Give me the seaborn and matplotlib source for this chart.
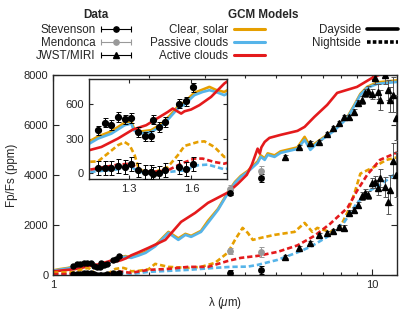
import numpy as np
import pandas as pd
import seaborn as sns
import matplotlib.pyplot as plt
from matplotlib.lines import Line2D
from matplotlib.container import ErrorbarContainer
from matplotlib.legend_handler import HandlerErrorbar

# GCM models - dayside (solid)
clear_day_wl = [1.0, 1.05, 1.11, 1.154, 1.218, 1.281, 1.313, 1.325, 1.352, 1.408, 1.456, 1.495, 1.535, 1.567,
                1.614, 1.654, 1.686, 1.717, 1.757, 1.85, 1.95, 2.09, 2.3, 2.47, 2.6, 2.71, 2.91, 3.06, 3.29, 3.54,
                3.72, 3.88, 4.08, 4.38, 4.48, 4.61, 4.71, 4.95, 5.17, 5.84, 6.15, 6.41, 6.74, 7.6, 8.38, 8.81,
                9.2, 9.66, 10.4, 12.0]
clear_day = [180, 230, 275, 320, 365, 440, 452, 392, 362, 375, 428, 498, 580, 618, 700, 728, 751, 725, 707,
             800, 920, 1180, 1720, 1460, 1640, 1560, 1760, 2160, 2640, 3320, 3720, 3960, 4160, 4540, 4780,
             4660, 4860, 4780, 4940, 5100, 5520, 5120, 5320, 5800, 6320, 6800, 7240, 7520, 7700, 7780]
passive_day = [160, 210, 255, 302, 345, 418, 432, 374, 345, 359, 411, 481, 563, 598, 679, 707, 722, 707, 679,
               770, 880, 1140, 1680, 1400, 1600, 1520, 1720, 2080, 2600, 3280, 3680, 3920, 4120, 4480, 4720,
               4600, 4800, 4720, 4880, 5040, 5400, 5000, 5280, 5760, 6280, 6760, 7200, 7480, 7640, 7720]
active_day_wl = [1.0, 1.11, 1.17, 1.249, 1.32, 1.384, 1.44, 1.487, 1.511, 1.551, 1.567, 1.598, 1.638, 1.694,
                 1.757, 1.85, 1.99, 2.25, 2.52, 2.79, 3.06, 3.54, 3.8, 4.05, 4.2, 4.38, 4.45, 4.5, 4.61, 4.77,
                 5.17, 5.84, 6.15, 6.6, 7.24, 7.78, 8.98, 10.14, 10.76, 12.0]
active_day = [140, 200, 229, 302, 380, 418, 481, 533, 563, 519, 539, 554, 592, 664, 780, 900, 1080, 1400, 2120,
              2480, 2880, 3300, 3650, 4000, 4400, 5050, 4850, 5100, 5320, 5480, 5600, 5760, 5920, 6320, 6800,
              7280, 7520, 7920, 8040, 8300]

# GCM models - nightside (dashed)
clear_night_wl = [1.0, 1.11, 1.154, 1.2, 1.249, 1.281, 1.305, 1.329, 1.348, 1.384, 1.424, 1.487, 1.535, 1.567,
                  1.63, 1.662, 1.71, 1.757, 1.85, 1.99, 2.09, 2.3, 2.65, 2.91, 3.22, 3.54, 3.72, 3.93, 4.08,
                  4.23, 4.48, 4.95, 5.72, 6.15, 6.5, 6.74, 7.39, 7.96, 8.38, 8.81, 9.2, 10.1, 11.1, 12.0]
clear_night = [90, 100, 104, 171, 244, 272, 244, 157, 41, 6, 11, 55, 157, 238, 272, 278, 229, 142, 160, 220,
               440, 320, 280, 320, 480, 900, 1400, 1880, 1680, 1400, 1480, 1600, 1720, 2080, 1720, 1880, 1720,
               1920, 2500, 3250, 4050, 4300, 4600, 4700]
active_night_wl = [1.0, 1.11, 1.186, 1.249, 1.313, 1.352, 1.408, 1.487, 1.551, 1.614, 1.654, 1.71, 1.757, 1.99,
                   2.3, 2.65, 3.06, 3.54, 3.88, 4.38, 5.06, 5.84, 6.6, 7.39, 8.38, 8.98, 9.66, 10.6, 12.0]
active_night = [30, 30, 55, 76, 84, 26, 11, 26, 84, 128, 128, 98, 84, 200, 240, 320, 320, 560, 680, 760, 920,
                1180, 1560, 2040, 2680, 3360, 4000, 4600, 4900]
passive_night_wl = [1.0, 1.11, 1.249, 1.313, 1.352, 1.487, 1.567, 1.63, 1.678, 1.757, 1.99, 2.65, 3.22, 3.6,
                    4.08, 4.38, 5.06, 5.84, 6.41, 7.24, 8.18, 8.98, 9.92, 10.4, 11.5, 12.0]
passive_night = [20, 11, 35, 55, 11, 11, 26, 70, 76, 35, 120, 200, 280, 320, 330, 400, 600, 900, 1120, 1520,
                 2100, 2880, 3400, 3520, 3920, 4100]

# Data
wfc3_wl = [1.154, 1.186, 1.218, 1.249, 1.281, 1.313, 1.344, 1.376, 1.408, 1.416, 1.443, 1.476, 1.540, 1.575, 1.606]
wfc3_day = [374, 439, 420, 490, 470, 481, 359, 322, 325, 465, 403, 446, 606, 626, 746]
wfc3_day_err = [40] * 15
wfc3_night = [46, 46, 46, 61, 55, 84, 26, 11, 11, -3, 3, 26, 55, 41, 84]
wfc3_night_err = [60] * 15

spitzer_wl = [3.6, 4.5]
stev_day = [3280, 3880]
stev_day_err = [100, 150]
stev_night = [80, 200]
stev_night_err = [100, 150]
mend_day = [3440, 4150]
mend_day_err = [150, 200]
mend_night = [960, 920]
mend_night_err = [120, 200]

miri_wl = [5.34, 5.90, 6.39, 6.82, 7.23, 7.55, 7.88, 8.17, 8.47, 8.78, 9.04, 9.31, 9.51, 9.72, 10.0, 10.22,
           10.44, 10.59, 10.98, 11.22, 11.39, 11.64, 11.89]
miri_day = [4720, 5120, 5280, 5320, 5640, 5880, 6080, 6320, 6320, 6520, 6880, 7000, 7280, 7360, 7240, 7880,
            7320, 7000, 8000, 7400, 7000, 7200, 6280]
miri_day_err = [60, 60, 60, 60, 60, 80, 80, 80, 80, 100, 120, 150, 150, 180, 200, 250, 300, 400, 350, 400,
                500, 700, 900]
miri_night = [720, 1080, 1280, 1600, 1680, 1760, 1920, 1880, 2480, 2600, 2800, 3160, 3280, 3200, 3680, 3720,
              3480, 3880, 3520, 2920, 3400, 4560, 4000]
miri_night_err = [60, 60, 60, 80, 80, 80, 80, 100, 100, 100, 120, 150, 150, 150, 200, 250, 300, 350, 400, 500,
                  600, 700, 900]

ORANGE = "#E69F00"
BLUE = "#56B4E9"
RED = "#E41A1C"
GREY = "#999999"

sns.set_style("ticks")
plt.rcParams["font.family"] = ["Liberation Sans", "DejaVu Sans"]
plt.rcParams["mathtext.fontset"] = "custom"
plt.rcParams["mathtext.it"] = "Liberation Sans:italic"

fig = plt.figure(figsize=(4.15, 3.12), dpi=100)
ax = fig.add_axes([0.128, 0.119, 0.829, 0.641])
ins = fig.add_axes([0.214, 0.426, 0.333, 0.321])

LW = 1.9
NIGHT = (0, (2.0, 1.1))
FS = 8.4


def draw_models(a):
    sns.lineplot(x=clear_day_wl, y=clear_day, ax=a, color=ORANGE, lw=LW, estimator=None, sort=False)
    sns.lineplot(x=clear_day_wl, y=passive_day, ax=a, color=BLUE, lw=LW, estimator=None, sort=False)
    sns.lineplot(x=active_day_wl, y=active_day, ax=a, color=RED, lw=LW, estimator=None, sort=False)
    sns.lineplot(x=clear_night_wl, y=clear_night, ax=a, color=ORANGE, lw=LW, ls=NIGHT, estimator=None, sort=False)
    sns.lineplot(x=passive_night_wl, y=passive_night, ax=a, color=BLUE, lw=LW, ls=NIGHT, estimator=None, sort=False)
    sns.lineplot(x=active_night_wl, y=active_night, ax=a, color=RED, lw=LW, ls=NIGHT, estimator=None, sort=False)


def draw_points(a, ms=3.5):
    kw = dict(fmt="o", color="k", ms=ms, capsize=1.8, elinewidth=0.7, capthick=0.7, zorder=5)
    a.errorbar(wfc3_wl, wfc3_day, yerr=wfc3_day_err, **kw)
    a.errorbar(wfc3_wl, wfc3_night, yerr=wfc3_night_err, **kw)


draw_models(ax)
draw_points(ax, ms=3.6)
ekw = dict(capsize=1.8, elinewidth=0.7, capthick=0.7, zorder=5)
ax.errorbar(spitzer_wl, mend_day, yerr=mend_day_err, fmt="o", color=GREY, ms=3.9, **ekw)
ax.errorbar(spitzer_wl, mend_night, yerr=mend_night_err, fmt="o", color=GREY, ms=3.9, **ekw)
ax.errorbar(spitzer_wl, stev_day, yerr=stev_day_err, fmt="o", color="k", ms=3.9, **ekw)
ax.errorbar(spitzer_wl, stev_night, yerr=stev_night_err, fmt="o", color="k", ms=3.9, **ekw)
ax.errorbar(miri_wl, miri_day, yerr=miri_day_err, fmt="^", color="k", ms=4.4, ecolor="#555555", **ekw)
ax.errorbar(miri_wl, miri_night, yerr=miri_night_err, fmt="^", color="k", ms=4.4, ecolor="#555555", **ekw)

# proxy handles for the legend (horizontal error bar keys)
data_h = []
for c, m in [("k", "o"), (GREY, "o"), ("k", "^")]:
    data_h.append(ax.errorbar([np.nan], [np.nan], xerr=[1], fmt=m, color=c, ms=3.8,
                              capsize=2.5, elinewidth=0.8, capthick=0.8))

ax.set_xscale("log")
ax.set_xlim(1, 12)
ax.set_ylim(0, 8000)
ax.set_xticks([1, 10])
ax.set_xticklabels(["1", "10"])
ax.set_yticks([0, 2000, 4000, 6000, 8000])
ax.set_xlabel(r"λ ($\mu$m)", fontsize=FS)
ax.set_ylabel("Fp/Fs (ppm)", fontsize=FS)
ax.tick_params(which="both", direction="in", top=True, right=True, labelsize=8, width=0.8)
ax.tick_params(which="major", length=4)
ax.tick_params(which="minor", length=2)
for s in ax.spines.values():
    s.set_linewidth(1.0)

draw_models(ins)
draw_points(ins, ms=4.2)
ins.set_xlim(1.11, 1.77)
ins.set_ylim(-50, 820)
ins.set_xticks([1.3, 1.6])
ins.set_yticks([0, 300, 600])
ins.tick_params(direction="in", top=True, right=True, labelsize=8, length=3, width=0.8)
ins.set_xlabel("")
ins.set_ylabel("")
for s in ins.spines.values():
    s.set_linewidth(1.0)

leg_kw = dict(frameon=False, markerfirst=False, fontsize=FS, handlelength=2.7, handletextpad=0.45,
              labelspacing=0.08, borderpad=0, borderaxespad=0, numpoints=1)
fig.legend(data_h, ["Stevenson", "Mendonca", "JWST/MIRI"], loc="upper right",
           bbox_to_anchor=(132 / 415, 1 - 24 / 312),
           handler_map={ErrorbarContainer: HandlerErrorbar(xerr_size=1.3)}, **leg_kw)
model_h = [Line2D([], [], color=c, lw=2.2) for c in [ORANGE, BLUE, RED]]
fig.legend(model_h, ["Clear, solar", "Passive clouds", "Active clouds"], loc="upper right",
           bbox_to_anchor=(265 / 415, 1 - 24 / 312), **leg_kw)
side_h = [Line2D([], [], color="k", lw=2.6), Line2D([], [], color="k", lw=2.6, ls=(0, (1, 0.6)))]
fig.legend(side_h, ["Dayside", "Nightside"], loc="upper right",
           bbox_to_anchor=(398 / 415, 1 - 24 / 312), **leg_kw)
fig.text(96 / 415, 1 - 15 / 312, "Data", fontsize=FS, fontweight="bold", ha="center", va="center")
fig.text(263 / 415, 1 - 15 / 312, "GCM Models", fontsize=FS, fontweight="bold", ha="center", va="center")

fig.savefig("out.png", dpi=100)
